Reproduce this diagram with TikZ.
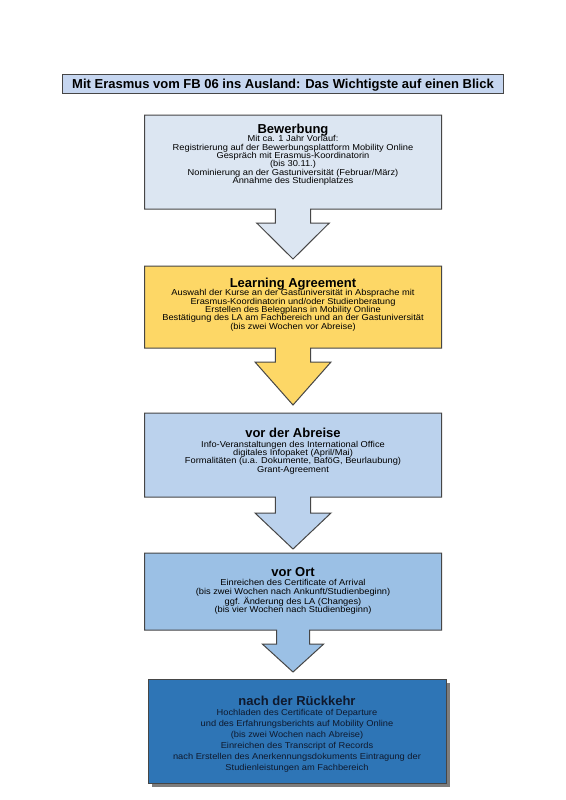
\documentclass[tikz,border=0pt]{standalone}
\usepackage{fontspec}
\setmainfont{Liberation Sans}
\newfontfamily\bodyfont[FakeStretch=1.08]{Liberation Sans}
\definecolor{hdrfill}{RGB}{198,214,240}
\definecolor{edgegray}{RGB}{70,70,70}
\definecolor{fillA}{RGB}{220,230,242}
\definecolor{fillB}{RGB}{253,215,102}
\definecolor{fillC}{RGB}{187,210,237}
\definecolor{fillD}{RGB}{155,192,229}
\definecolor{fillE}{RGB}{46,117,182}
\definecolor{shadowgray}{RGB}{125,125,125}
\definecolor{darktext}{RGB}{15,25,45}
\newcommand\ergcallout[9]{%
  \filldraw[boxline, fill=#9] (#1,#2) -- (#3,#2) -- (#3,#4) -- (293+#5,#4) -- (293+#5,#6)
    -- (293+#7,#6) -- (293,#8) -- (293-#7,#6) -- (293-#5,#6) -- (293-#5,#4) -- (#1,#4) -- cycle;}
\begin{document}
\begin{tikzpicture}[x=1pt,y=-1pt,
  boxline/.style={draw=edgegray, line width=1pt, line join=miter},
  ttl/.style={font=\bfseries\fontsize{13}{15}\selectfont, inner sep=0pt, anchor=base},
  bodytxt/.style={font=\bodyfont\fontsize{8.6}{8.3}\selectfont, align=center, inner sep=0pt, anchor=north}]
\useasboundingbox[fill=white] (0,0) rectangle (565,800);
% header
\filldraw[boxline, fill=hdrfill] (62.5,74.3) rectangle (503.5,93.3);
\node[ttl] (hdr) at (283,88.6) {Mit Erasmus vom FB 06 ins Ausland: Das Wichtigste auf einen Blick};
% box 1
\ergcallout{144.5}{115}{441.5}{209}{17.7}{223}{36.3}{259}{fillA}
\node[ttl] (t1) at (293,133.3) {Bewerbung};
\node[bodytxt] (b1) at (293,135.4) {Mit ca. 1 Jahr Vorlauf:\\Registrierung auf der Bewerbungsplattform Mobility Online\\Gespräch mit Erasmus-Koordinatorin\\(bis 30.11.)\\Nominierung an der Gastuniversität (Februar/März)\\Annahme des Studienplatzes};
% box 2
\ergcallout{144.5}{266}{441.5}{348}{17.7}{362}{38}{405}{fillB}
\node[ttl] (t2) at (293,287.3) {Learning Agreement};
\node[bodytxt] (b2) at (293,289.4) {Auswahl der Kurse an der Gastuniversität in Absprache mit\\Erasmus-Koordinatorin und/oder Studienberatung\\Erstellen des Belegplans in Mobility Online\\Bestätigung des LA am Fachbereich und an der Gastuniversität\\(bis zwei Wochen vor Abreise)};
% box 3
\ergcallout{144.5}{413}{441.5}{497}{17.7}{513}{38}{549}{fillC}
\node[ttl] (t3) at (293,437) {vor der Abreise};
\node[bodytxt] (b3) at (293,440.8) {Info-Veranstaltungen des International Office\\digitales Infopaket (April/Mai)\\Formalitäten (u.a. Dokumente, BaföG, Beurlaubung)\\Grant-Agreement};
% box 4
\ergcallout{144.5}{553}{441.5}{630}{16.5}{644}{30.7}{672}{fillD}
\node[ttl] (t4) at (293,576) {vor Ort};
\node[bodytxt] (b4) at (293,579.4) {Einreichen des Certificate of Arrival\\(bis zwei Wochen nach Ankunft/Studienbeginn)\\ggf. Änderung des LA (Changes)\\(bis vier Wochen nach Studienbeginn)};
% box 5
\fill[shadowgray] (151.5,682.5) rectangle (449.5,786.5);
\filldraw[boxline, fill=fillE] (148,679) rectangle (446,783);
\node[ttl, text=darktext] (t5) at (297,705) {nach der Rückkehr};
\node[bodytxt, text=darktext, font=\bodyfont\fontsize{8.6}{11}\selectfont] (b5) at (297,708.6) {Hochladen des Certificate of Departure\\und des Erfahrungsberichts auf Mobility Online\\(bis zwei Wochen nach Abreise)\\Einreichen des Transcript of Records\\nach Erstellen des Anerkennungsdokuments Eintragung der\\Studienleistungen am Fachbereich};
\end{tikzpicture}
\end{document}
